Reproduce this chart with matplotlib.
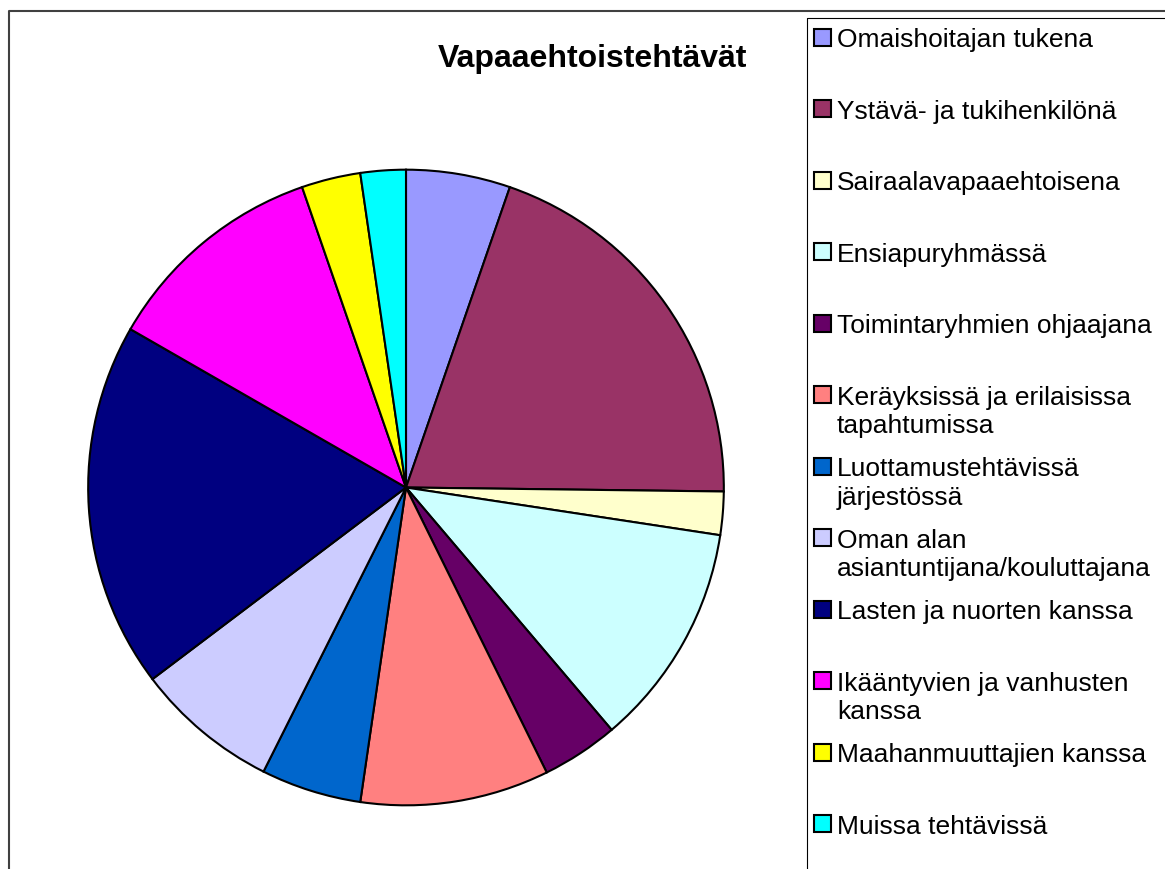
import matplotlib
matplotlib.use('Agg')
import matplotlib.pyplot as plt
from matplotlib.lines import Line2D
from matplotlib.patches import Rectangle

plt.rcParams['font.family'] = ['Liberation Sans', 'DejaVu Sans']

# Data (shares)
labels = [
    'Omaishoitajan tukena',
    'Ystävä- ja tukihenkilönä',
    'Sairaalavapaaehtoisena',
    'Ensiapuryhmässä',
    'Toimintaryhmien ohjaajana',
    'Keräyksissä ja erilaisissa\ntapahtumissa',
    'Luottamustehtävissä\njärjestössä',
    'Oman alan\nasiantuntijana/kouluttajana',
    'Lasten ja nuorten kanssa',
    'Ikääntyvien ja vanhusten\nkanssa',
    'Maahanmuuttajien kanssa',
    'Muissa tehtävissä',
]
values = [5.3, 19.9, 2.2, 11.4, 3.9, 9.6, 5.1, 7.3, 18.6, 11.4, 3.0, 2.3]
colors = ['#9999FF', '#993366', '#FFFFCC', '#CCFFFF', '#660066', '#FF8080',
          '#0066CC', '#CCCCFF', '#000080', '#FF00FF', '#FFFF00', '#00FFFF']
title = 'Vapaaehtoistehtävät'

W, H = 1165, 870
fig = plt.figure(figsize=(W / 100, H / 100), dpi=100)


def fx(px):
    return px / W


def fy(py):
    return 1 - py / H


# pie (center ~ (406, 488), radius ~ 321 px)
cx, cy, r = 406, 488.5, 321
ax = fig.add_axes([fx(cx - r), fy(cy + r), 2 * r / W, 2 * r / H])
ax.pie(values, colors=colors, startangle=90, counterclock=False, radius=1,
       wedgeprops=dict(edgecolor='black', linewidth=1.5))
ax.set_xlim(-1.01, 1.01)
ax.set_ylim(-1.01, 1.01)
ax.set_aspect('equal')
ax.axis('off')

# title
fig.text(fx(592), fy(67), title, ha='center', va='baseline',
         fontsize=23, fontweight='bold')

# outer frame of the chart area
fig.add_artist(Line2D([fx(9), fx(9), fx(W)], [fy(H), fy(12), fy(12)],
                      color='#404040', linewidth=1.5, transform=fig.transFigure))

# legend box
fig.add_artist(Line2D([fx(806.5), fx(806.5), fx(W)], [fy(H), fy(19), fy(19)],
                      color='black', linewidth=0.8, transform=fig.transFigure))

# legend entries
for i, (lab, col) in enumerate(zip(labels, colors)):
    yc = 38 + i * 71.5
    fig.add_artist(Rectangle((fx(814), fy(yc + 8.5)), 17 / W, 17 / H,
                             facecolor=col, edgecolor='black', linewidth=1.5,
                             transform=fig.transFigure))
    for j, line in enumerate(lab.split('\n')):
        fig.text(fx(837), fy(yc + 9.2 + j * 28.5), line, ha='left',
                 va='baseline', fontsize=19)

fig.savefig('out.png', dpi=100, facecolor='white')
